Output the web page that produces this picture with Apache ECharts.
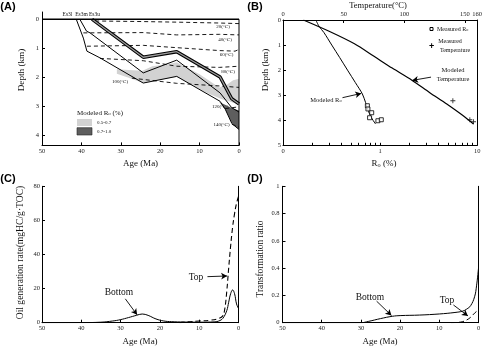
<!DOCTYPE html>
<html>
<head>
<meta charset="utf-8">
<script src="https://cdn.jsdelivr.net/npm/echarts@6/dist/echarts.min.js"></script>
<style>
  html, body { margin: 0; padding: 0; background: #fff; }
  #chart { width: 485px; height: 347px; }
</style>
</head>
<body>
<div id="chart"></div>
<script>
// ---------- Panel A: burial history (age Ma, depth km) ----------
const es3lBase = [[41.3,0],[39.5,0.65],[38.6,1.1],[35.3,1.33],[24.3,2.2],[15.8,1.97],[4.8,2.83],[3.5,3.1],[1.8,3.6],[0,3.8]];
const es3mBase = [[40.4,0],[38.7,0.41],[37.8,0.47],[24.3,1.85],[15.8,1.41],[4.8,2.54],[1.85,3.05],[0,3.2]];
const es3uBase = [[37.3,0],[24.3,1.31],[15.8,1.12],[4.8,1.99],[1.85,2.74],[0,2.92]];
const isotherms = {
  '20':  [[36.5,0.06],[24.3,0.08],[15.8,0.1],[5,0.13],[0,0.15]],
  '40':  [[39.5,0.47],[24.3,0.46],[15.8,0.54],[5,0.52],[0,0.54]],
  '60':  [[38.6,0.93],[24.3,0.9],[15.8,0.98],[5,1.08],[1,1.1],[0,1.04]],
  '80':  [[35.3,1.35],[24.3,1.43],[15.8,1.62],[5,1.66],[0,1.62]],
  '100': [[27.2,2.03],[15.8,2.21],[5,2.3],[0,2.35]],
  '120': [[3.5,3.08],[0,3.02]],
  '140': [[1.8,3.62],[0,3.72]]
};
const roBand05 = [[31,1.72],[27,1.76],[24.5,1.78],[22,1.62],[18,1.55],[15.8,1.48],[10,1.9],[5,2.35],[3,2.25],[1.5,2.1],[0,2.05],
                  [0,2.95],[2,2.85],[4.5,2.75],[8,2.55],[15.8,1.98],[24.3,2.2],[28,2.02],[31,1.88]];
const roBand07 = [[5,2.85],[3.5,3.1],[1.8,3.58],[0,3.8],[0,3.15],[1.5,3.08],[3,2.98]];

// ---------- Panel B: present-day profiles ----------
const modeledTemp = [[16.8,0],[38,0.45],[58.9,0.95],[75,1.45],[90,1.92],[106.5,2.41],[121,2.9],[135,3.35],[148,3.8],[157,4.15]];
const measuredTemp = [[140,3.22],[154,3.98],[157,4.06]];
const modeledRo = [[0.218,0],[0.235,0.25],[0.264,0.5],[0.318,1.0],[0.384,1.5],[0.462,2.0],[0.557,2.5],[0.657,2.95],[0.71,3.3],[0.76,3.65],[0.83,3.95],[0.9,4.15]];
const measuredRo = [[0.74,3.42],[0.75,3.55],[0.82,3.7],[0.78,3.9],[0.95,4.02],[1.03,3.98]];

// ---------- Panel C: oil generation rate ----------
const rateBottom = [[50,0],[40,0.05],[35,0.3],[32,1],[30,1.8],[28,3],[26,4.3],[24.5,5.1],[23,4.3],[21,2.2],[19,1],[17,0.6],[14,0.4],[10,0.3],[6,0.5],[5,1],[4,2.5],[3,7],[2.5,12],[2,17],[1.5,19.2],[1,17],[0.5,11],[0,8.4]];
const rateTop = [[15,0],[13,0.5],[10,1],[7,1.5],[5,2.5],[4,4],[3.5,8],[3,18],[2.5,32],[2,45],[1.5,56],[1,64],[0.5,70],[0,74]];

// ---------- Panel D: transformation ratio ----------
const trBottom = [[50,0],[30,0],[28,0.01],[25,0.03],[22,0.047],[20,0.052],[15,0.056],[10,0.064],[6,0.075],[4,0.085],[3,0.1],[2,0.125],[1,0.19],[0.5,0.27],[0,0.4]];
const trTop = [[7,0],[5,0.003],[4,0.008],[3,0.02],[2,0.04],[1,0.07],[0,0.095]];

// tick positions
const depthTicksA = [0,1,2,3,4];
const roLabels = [0.1,1,10];
const roMinorTicks = [0.1,0.2,0.3,0.4,0.5,0.6,0.7,0.8,0.9,1,2,3,4,5,6,7,8,9,10];

const SERIF = '"Liberation Serif","DejaVu Serif",serif';
const SANS = '"Liberation Sans",Arial,sans-serif';

const chart = echarts.init(document.getElementById('chart'), null, {renderer: 'canvas'});

function axisBase(extra) {
  return Object.assign({
    axisLine: {show: true, onZero: false, lineStyle: {color: '#000', width: 1}},
    axisTick: {show: true, inside: true, length: 3, lineStyle: {color: '#000', width: 1}},
    axisLabel: {fontFamily: SERIF, fontSize: 6.5, color: '#222', margin: 2},
    splitLine: {show: false}
  }, extra);
}
function border(gridIndex, min, max, inverse) {
  return {gridIndex, type: 'value', position: 'right', min, max, inverse: !!inverse,
    axisLine: {show: true, onZero: false, lineStyle: {color: '#000', width: 1}},
    axisTick: {show: false}, axisLabel: {show: false}, splitLine: {show: false}};
}
function line(data, xi, yi, opts) {
  return Object.assign({type: 'line', xAxisIndex: xi, yAxisIndex: yi, data, symbol: 'none',
    lineStyle: {color: '#000', width: 1}, silent: true, animation: false, z: 3}, opts || {});
}
function band(poly, color) {
  return {type: 'custom', xAxisIndex: 0, yAxisIndex: 0, silent: true, animation: false, z: 1,
    data: [[0, 0]],
    renderItem: (params, api) => ({
      type: 'polygon',
      shape: {points: poly.map(p => api.coord(p))},
      style: {fill: color}
    })};
}
function arrow(xi, yi, from, to) {
  return {type: 'line', xAxisIndex: xi, yAxisIndex: yi, data: [], silent: true, animation: false,
    markLine: {silent: true, animation: false, symbol: ['none', 'arrow'], symbolSize: [5, 6],
      lineStyle: {color: '#000', width: 0.9, type: 'solid'}, label: {show: false},
      data: [[{coord: from}, {coord: to}]]}};
}
const txt = (x, y, s, size, opts, rot) => ({type: 'text', x, y, rotation: rot || 0, silent: true,
  style: Object.assign({text: s, fontFamily: SERIF, fontSize: size, fill: '#111', align: 'center', verticalAlign: 'middle'}, opts || {})});
const sub = (x, y, main, tail, size, align) => ({type: 'text', x, y, silent: true, style: {
  text: '{a|' + main + '}{s|o}' + (tail ? '{a|' + tail + '}' : ''), align: align || 'center', verticalAlign: 'middle',
  rich: {a: {fontFamily: SERIF, fontSize: size, fill: '#111'},
         s: {fontFamily: SERIF, fontSize: size * 0.7, fill: '#111', verticalAlign: 'bottom', padding: [size * 0.35, 0, 0, 0]}}}});
const UP = Math.PI / 2;

const isoSeries = Object.keys(isotherms).map(k =>
  line(isotherms[k], 0, 0, {lineStyle: {color: '#000', width: 0.9, type: [4, 3]}, z: 2}));

const option = {
  animation: false,
  grid: [
    {left: 42, top: 12, width: 197, height: 133.4},
    {left: 283, top: 20, width: 196, height: 125.3},
    {left: 42, top: 186.3, width: 196.5, height: 136.4},
    {left: 282.5, top: 186.3, width: 196, height: 136.4}
  ],
  xAxis: [
    axisBase({gridIndex: 0, type: 'value', min: 0, max: 50, interval: 10, inverse: true}),
    axisBase({gridIndex: 1, type: 'log', logBase: 10, min: 0.1, max: 10, position: 'bottom',
      axisTick: {show: true, inside: true, length: 2.5, customValues: roMinorTicks, lineStyle: {color: '#000'}},
      axisLabel: {fontFamily: SERIF, fontSize: 6.5, color: '#222', margin: 2, customValues: roLabels,
        formatter: v => (v < 0.5 ? '0' : String(Math.round(v)))}}),
    axisBase({gridIndex: 1, type: 'value', min: 0, max: 160, interval: 50, position: 'top'}),
    axisBase({gridIndex: 2, type: 'value', min: 0, max: 50, interval: 10, inverse: true}),
    axisBase({gridIndex: 3, type: 'value', min: 0, max: 50, interval: 10, inverse: true})
  ],
  yAxis: [
    axisBase({gridIndex: 0, type: 'value', min: -0.25, max: 4.35, inverse: true,
      axisTick: {show: true, inside: true, length: 3, customValues: depthTicksA, lineStyle: {color: '#000'}},
      axisLabel: {fontFamily: SERIF, fontSize: 6.5, color: '#222', margin: 3, customValues: depthTicksA}}),
    axisBase({gridIndex: 1, type: 'value', min: 0, max: 5, interval: 1, inverse: true}),
    border(1, 0, 5, true),
    axisBase({gridIndex: 2, type: 'value', min: 0, max: 80, interval: 20}),
    border(2, 0, 80),
    axisBase({gridIndex: 3, type: 'value', min: 0, max: 1, interval: 0.2,
      axisLabel: {fontFamily: SERIF, fontSize: 6.5, color: '#222', margin: 3,
        formatter: v => (v === 0 || v === 1 ? String(v) : v.toFixed(1))}}),
    border(3, 0, 1)
  ],
  series: [
    band(roBand05, '#d2d2d2'),
    band(roBand07, '#5e5e5e'),
    ...isoSeries,
    line(es3lBase, 0, 0),
    line(es3mBase, 0, 0),
    line(es3uBase, 0, 0, {lineStyle: {color: '#000', width: 3.4}}),
    line(es3uBase, 0, 0, {lineStyle: {color: '#9a9a9a', width: 1.3}, z: 4}),
    line([[50, 0], [0, 0]], 0, 0, {lineStyle: {color: '#000', width: 1.5}, z: 5}),
    line([[0, 0], [0, 4.35]], 0, 0, {z: 5}),

    line(modeledTemp, 2, 1, {lineStyle: {color: '#000', width: 1.2}, smooth: 0.3}),
    {type: 'scatter', xAxisIndex: 2, yAxisIndex: 1, data: measuredTemp, silent: true, animation: false,
      symbol: 'path://M-1,-0.18H1V0.18H-1Z M-0.18,-1H0.18V1H-0.18Z', symbolSize: 5, itemStyle: {color: '#000'}, z: 4},
    line(modeledRo, 1, 1, {lineStyle: {color: '#000', width: 1}, smooth: 0.3}),
    {type: 'scatter', xAxisIndex: 1, yAxisIndex: 1, data: measuredRo, silent: true, animation: false,
      symbol: 'rect', symbolSize: 4, itemStyle: {color: '#fff', borderColor: '#000', borderWidth: 1}, z: 4},

    line(rateBottom, 3, 3, {smooth: 0.4}),
    line(rateTop, 3, 3, {smooth: 0.4, lineStyle: {color: '#000', width: 1.1, type: [5, 3]}}),

    line(trBottom, 4, 5, {smooth: 0.4}),
    line(trTop, 4, 5, {smooth: 0.4, lineStyle: {color: '#000', width: 1, type: [5, 3]}}),

    arrow(2, 1, [122, 2.28], [106.5, 2.41]),
    arrow(1, 1, [0.41, 3.1], [0.64, 2.93]),
    arrow(3, 3, [7.9, 27], [2.9, 27.4]),
    arrow(3, 3, [28.8, 14], [25.8, 4.6]),
    arrow(4, 5, [26, 0.158], [22.2, 0.053]),
    arrow(4, 5, [6.4, 0.13], [2.7, 0.05])
  ],
  graphic: [
    txt(8, 7, '(A)', 11, {fontFamily: SANS, fontWeight: 'bold', fill: '#000'}),
    txt(255, 7, '(B)', 11, {fontFamily: SANS, fontWeight: 'bold', fill: '#000'}),
    txt(8, 179, '(C)', 11, {fontFamily: SANS, fontWeight: 'bold', fill: '#000'}),
    txt(255, 179, '(D)', 11, {fontFamily: SANS, fontWeight: 'bold', fill: '#000'}),

    // panel A text
    txt(21.5, 70, 'Depth (km)', 9.2, null, UP),
    txt(140.5, 163.5, 'Age (Ma)', 9),
    txt(67.5, 15, 'Es3l', 5.5), txt(81.5, 15, 'Es3m', 5.5), txt(94.5, 15, 'Es3u', 5.5),
    txt(223, 27, '20(°C)', 5), txt(225, 39.5, '40(°C)', 5), txt(226.5, 54.5, '60(°C)', 5),
    txt(228, 71.5, '80(°C)', 5), txt(120, 81.3, '100(°C)', 5), txt(220, 106.3, '120(°C)', 5),
    txt(221.5, 124.7, '140(°C)', 5),
    sub(77, 112.7, 'Modeled R', ' (%)', 7, 'left'),
    {type: 'rect', silent: true, shape: {x: 77, y: 119, width: 15, height: 7}, style: {fill: '#d2d2d2'}},
    {type: 'rect', silent: true, shape: {x: 77, y: 127.7, width: 15, height: 7.3}, style: {fill: '#5e5e5e', stroke: '#222', lineWidth: 0.6}},
    txt(97, 122.5, '0.5-0.7', 5, {align: 'left'}),
    txt(97, 131.3, '0.7-1.0', 5, {align: 'left'}),

    // panel B text
    txt(265.5, 70, 'Depth (km)', 9.2, null, UP),
    txt(378, 5.5, 'Temperature(°C)', 8.5),
    sub(384, 163.5, 'R', ' (%)', 9),
    {type: 'rect', silent: true, shape: {x: 430, y: 27.5, width: 3, height: 3}, style: {fill: '#fff', stroke: '#000', lineWidth: 1}},
    sub(437, 29, 'Measured R', '', 6, 'left'),
    txt(431.7, 46.7, '+', 9, {fontFamily: SANS, fontWeight: 'bold', fill: '#000'}),
    txt(450, 41.7, 'Measured', 6),
    txt(455, 50, 'Temperature', 6),
    txt(453, 70.7, 'Modeled', 6.5),
    txt(453, 79.3, 'Temperature', 6.5),
    sub(326, 100, 'Modeled R', '', 6.5),

    // panel C text
    txt(20.5, 252.5, 'Oil generation rate(mgHC/g·TOC)', 9.6, null, UP),
    txt(140, 341.5, 'Age (Ma)', 9),
    txt(196, 277, 'Top', 9.5),
    txt(119, 292.5, 'Bottom', 9.5),

    // panel D text
    txt(260.5, 259, 'Transformation ratio', 9.3, null, UP),
    txt(380, 341.5, 'Age (Ma)', 9),
    txt(370, 297.5, 'Bottom', 9.5),
    txt(447, 300.5, 'Top', 9.5)
  ]
};
chart.setOption(option);
</script>
</body>
</html>
